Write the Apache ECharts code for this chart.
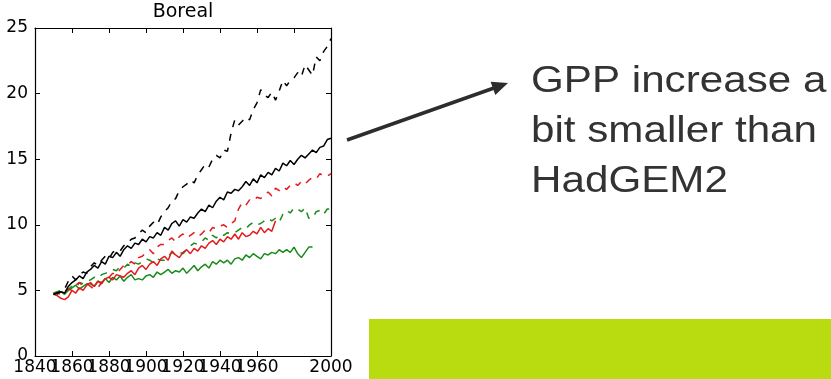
<!DOCTYPE html>
<html>
<head>
<meta charset="utf-8">
<script src="https://cdn.jsdelivr.net/npm/echarts@6/dist/echarts.min.js"></script>
<style>
  html, body { margin: 0; padding: 0; background: #fff; }
  #chart { width: 831px; height: 379px; }
</style>
</head>
<body>
<div id="chart"></div>
<script>
// Boreal GPP time series, sampled every two years
const startYear = 1850;
const stepYears = 2;

const blackSolid = [
  4.7, 4.8, 4.9, 4.8, 5.3, 5.6, 5.8, 6.1, 5.9, 6.4,
  6.6, 6.9, 6.7, 7.2, 7.0, 7.6, 7.5, 7.9, 7.6, 8.1,
  8.4, 8.2, 8.6, 8.5, 8.9, 8.7, 9.1, 9.0, 9.4, 9.2,
  9.8, 9.6, 10.1, 10.3, 9.9, 10.4, 10.2, 10.6, 10.5, 10.9,
  11.2, 11.0, 11.5, 11.3, 11.8, 12.1, 11.9, 12.5, 12.4, 12.7,
  12.6, 12.9, 13.3, 13.0, 13.5, 13.2, 13.8, 13.6, 14.0, 13.8,
  14.3, 14.1, 14.7, 14.5, 14.9, 14.6, 15.0, 15.3, 15.1, 15.4,
  15.7, 15.5, 15.9, 16.0, 16.5, 16.6
];

const blackDashed = [
  4.7, 4.8, 4.9, 5.1, 5.7, 6.1, 5.8, 6.2, 6.4, 6.3,
  6.8, 7.1, 6.9, 7.3, 7.6, 7.4, 7.9, 8.1, 8.0, 8.4,
  8.6, 8.9, 9.0, 9.3, 9.6, 9.4, 9.9, 10.2, 10.0, 10.6,
  11.0, 11.3, 11.8, 12.0, 12.6, 12.9, 13.1, 13.4, 13.2, 13.8,
  14.2, 14.6, 14.4, 15.0, 15.3, 15.1, 15.7, 15.6, 17.0, 18.0,
  17.6, 17.9, 18.2, 18.0, 18.8, 19.3, 20.3, 19.9, 19.7, 20.1,
  19.5, 20.2, 21.0, 20.6, 21.0, 21.2, 21.6, 21.3, 22.2, 21.8,
  21.4, 22.8, 22.5, 23.2, 23.6, 24.2
];

const redSolid = [
  4.7, 4.6, 4.4, 4.3, 4.5, 5.0, 4.8, 5.2, 5.0, 5.4,
  5.6, 5.3, 5.7, 5.5, 5.9, 6.0, 5.8, 6.2, 6.1, 6.0,
  6.3, 6.5, 6.2, 6.7, 6.9, 6.6, 7.0, 7.2, 6.9, 7.4,
  7.6, 7.3, 8.0, 7.7, 7.5, 7.9, 8.1, 7.8, 8.2, 8.0,
  8.4, 8.2, 8.6, 8.8, 8.5, 8.9, 8.7, 9.1, 8.9, 9.3,
  8.9, 9.4, 9.1, 9.2, 9.5, 9.3, 9.8, 9.4, 9.7, 9.5,
  10.3
];

const redDashed = [
  4.7, 4.8, 4.7, 4.9, 5.1, 5.0, 5.4, 5.6, 5.3, 5.5,
  5.3, 5.1, 5.2, 5.6, 5.8, 6.0, 6.3, 6.2, 6.6, 6.9,
  6.9, 7.2, 7.0, 7.5, 7.6, 7.9, 8.1, 7.8, 8.3, 8.5,
  8.5, 8.8, 9.0, 8.7, 9.1, 9.3, 9.0, 9.2, 9.4, 9.1,
  9.3, 9.6, 9.4, 9.8, 9.7, 9.9, 10.0, 9.8, 10.1, 10.3,
  11.2, 11.7, 11.5, 11.9, 11.8, 12.1, 12.0, 12.3, 12.5, 12.2,
  12.8, 12.6, 12.9, 12.7, 13.0, 13.2, 13.0, 13.3, 13.1, 13.4,
  13.6, 13.5, 13.9, 13.7, 13.7, 13.9
];

const greenSolid = [
  4.8, 4.7, 4.9, 4.7, 5.0, 5.2, 5.4, 5.1, 5.3, 5.5,
  5.5, 5.3, 5.7, 5.6, 5.9, 5.6, 6.0, 5.8, 6.1, 5.7,
  6.0, 6.2, 5.8, 5.9, 5.8, 6.1, 6.2, 6.0, 6.4, 6.2,
  6.4, 6.6, 6.3, 6.5, 6.4, 6.7, 6.3, 6.6, 6.9, 6.5,
  6.8, 7.0, 6.7, 7.2, 7.0, 7.3, 7.1, 7.3, 7.0, 7.4,
  7.5, 7.3, 7.7, 7.5, 7.8, 7.6, 7.4, 7.8, 7.7, 7.9,
  7.8, 8.1, 7.9, 8.1, 7.9, 8.3, 7.8, 7.5, 7.9, 8.3,
  8.3
];

const greenDashed = [
  4.8, 4.9, 5.0, 4.9, 5.1, 5.3, 5.2, 5.6, 5.5, 5.7,
  5.8, 6.0, 5.9, 6.2, 6.3, 6.4, 6.6, 6.5, 6.8, 6.7,
  7.0, 6.8, 7.1, 7.0, 7.2, 7.4, 7.3, 7.1, 7.4, 7.3,
  7.3, 7.6, 7.9, 7.7, 7.9, 7.8, 8.1, 8.4, 8.6, 8.5,
  8.7, 9.0, 8.8, 9.2, 9.0, 9.3, 9.2, 9.4, 9.3, 9.4,
  9.6, 9.8, 9.7, 10.0, 10.2, 10.0, 10.1, 10.3, 10.5, 10.3,
  10.5, 10.2, 10.8, 11.1, 10.9, 11.3, 11.2, 11.0, 11.3, 10.5,
  10.5, 11.0, 11.1, 10.8, 11.2, 11.2
];

// Axis ranges and tick spacing
const xMin = 1840, xMax = 2000, xStep = 20;
const yMin = 0, yMax = 25, yStep = 5;

const titleText = 'Boreal';
const noteLines = ['GPP increase a', 'bit smaller than', 'HadGEM2'];

function toPairs(values) {
  return values.map((v, i) => [startYear + i * stepYears, v]);
}

const chart = echarts.init(document.getElementById('chart'), null, { renderer: 'canvas' });

const axisFont = { fontFamily: 'DejaVu Sans', fontSize: 17, color: '#000' };
const tickStyle = { show: true, inside: true, length: 5, lineStyle: { color: '#000', width: 1 } };
const lineStyleAxis = { show: true, onZero: false, lineStyle: { color: '#000', width: 1.2 } };

function makeSeries(name, values, color, dashed) {
  return {
    name: name,
    type: 'line',
    data: toPairs(values),
    showSymbol: false,
    symbol: 'none',
    animation: false,
    lineStyle: { color: color, width: 1.5, type: dashed ? [7, 7] : 'solid' },
    z: 3
  };
}

const option = {
  backgroundColor: '#fff',
  animation: false,
  grid: { left: 35, top: 28, width: 296, height: 328, containLabel: false },
  xAxis: [
    {
      // main year axis: labels from 1860 to 2000
      type: 'value', min: xMin, max: xMax, interval: xStep,
      axisLine: lineStyleAxis, axisTick: tickStyle, splitLine: { show: false },
      axisLabel: Object.assign({
        margin: 3, showMinLabel: false, showMaxLabel: true, hideOverlap: false,
        formatter: (v) => String(v)
      }, axisFont)
    },
    {
      type: 'value', position: 'top', min: xMin, max: xMax, interval: xStep,
      axisLine: lineStyleAxis, axisTick: tickStyle, splitLine: { show: false },
      axisLabel: { show: false }
    },
    {
      // companion bottom axis carrying only the first year label
      type: 'value', position: 'bottom', min: xMin, max: xMax, interval: xStep,
      axisLine: { show: false }, axisTick: { show: false }, splitLine: { show: false },
      axisLabel: Object.assign({
        margin: 3, showMinLabel: true, showMaxLabel: false,
        formatter: (v) => (v === xMin ? String(v) : '')
      }, axisFont)
    }
  ],
  yAxis: [
    {
      type: 'value', min: yMin, max: yMax, interval: yStep,
      axisLine: lineStyleAxis, axisTick: tickStyle, splitLine: { show: false },
      axisLabel: Object.assign({ margin: 7 }, axisFont)
    },
    {
      type: 'value', position: 'right', min: yMin, max: yMax, interval: yStep,
      axisLine: lineStyleAxis, axisTick: tickStyle, splitLine: { show: false },
      axisLabel: { show: false }
    }
  ],
  series: [
    makeSeries('green dashed', greenDashed, '#1a8a1a', true),
    makeSeries('green', greenSolid, '#1a8a1a', false),
    makeSeries('red dashed', redDashed, '#e41a1c', true),
    makeSeries('red', redSolid, '#e41a1c', false),
    makeSeries('black dashed', blackDashed, '#000', true),
    makeSeries('black', blackSolid, '#000', false)
  ],
  graphic: [
    {
      type: 'text', x: 183, y: 3,
      style: { text: titleText, font: '19px "DejaVu Sans"', fill: '#000', align: 'center', verticalAlign: 'top' }
    },
    {
      type: 'line',
      shape: { x1: 347, y1: 140, x2: 494, y2: 88 },
      style: { stroke: '#2d2d2d', lineWidth: 3.5 }
    },
    {
      type: 'polygon',
      shape: { points: [[508, 83], [495.3, 94.9], [490.6, 81.7]] },
      style: { fill: '#2d2d2d' }
    },
    {
      type: 'text', x: 531, y: 82, scaleX: 1.14,
      style: { text: noteLines[0], font: '37px "Liberation Sans"', fill: '#333', align: 'left', verticalAlign: 'middle' }
    },
    {
      type: 'text', x: 531, y: 132, scaleX: 1.14,
      style: { text: noteLines[1], font: '37px "Liberation Sans"', fill: '#333', align: 'left', verticalAlign: 'middle' }
    },
    {
      type: 'text', x: 531, y: 182, scaleX: 1.14,
      style: { text: noteLines[2], font: '37px "Liberation Sans"', fill: '#333', align: 'left', verticalAlign: 'middle' }
    },
    {
      type: 'rect',
      shape: { x: 369, y: 319, width: 462, height: 60 },
      style: { fill: '#b8dc0f' }
    }
  ]
};

chart.setOption(option);
</script>
</body>
</html>
